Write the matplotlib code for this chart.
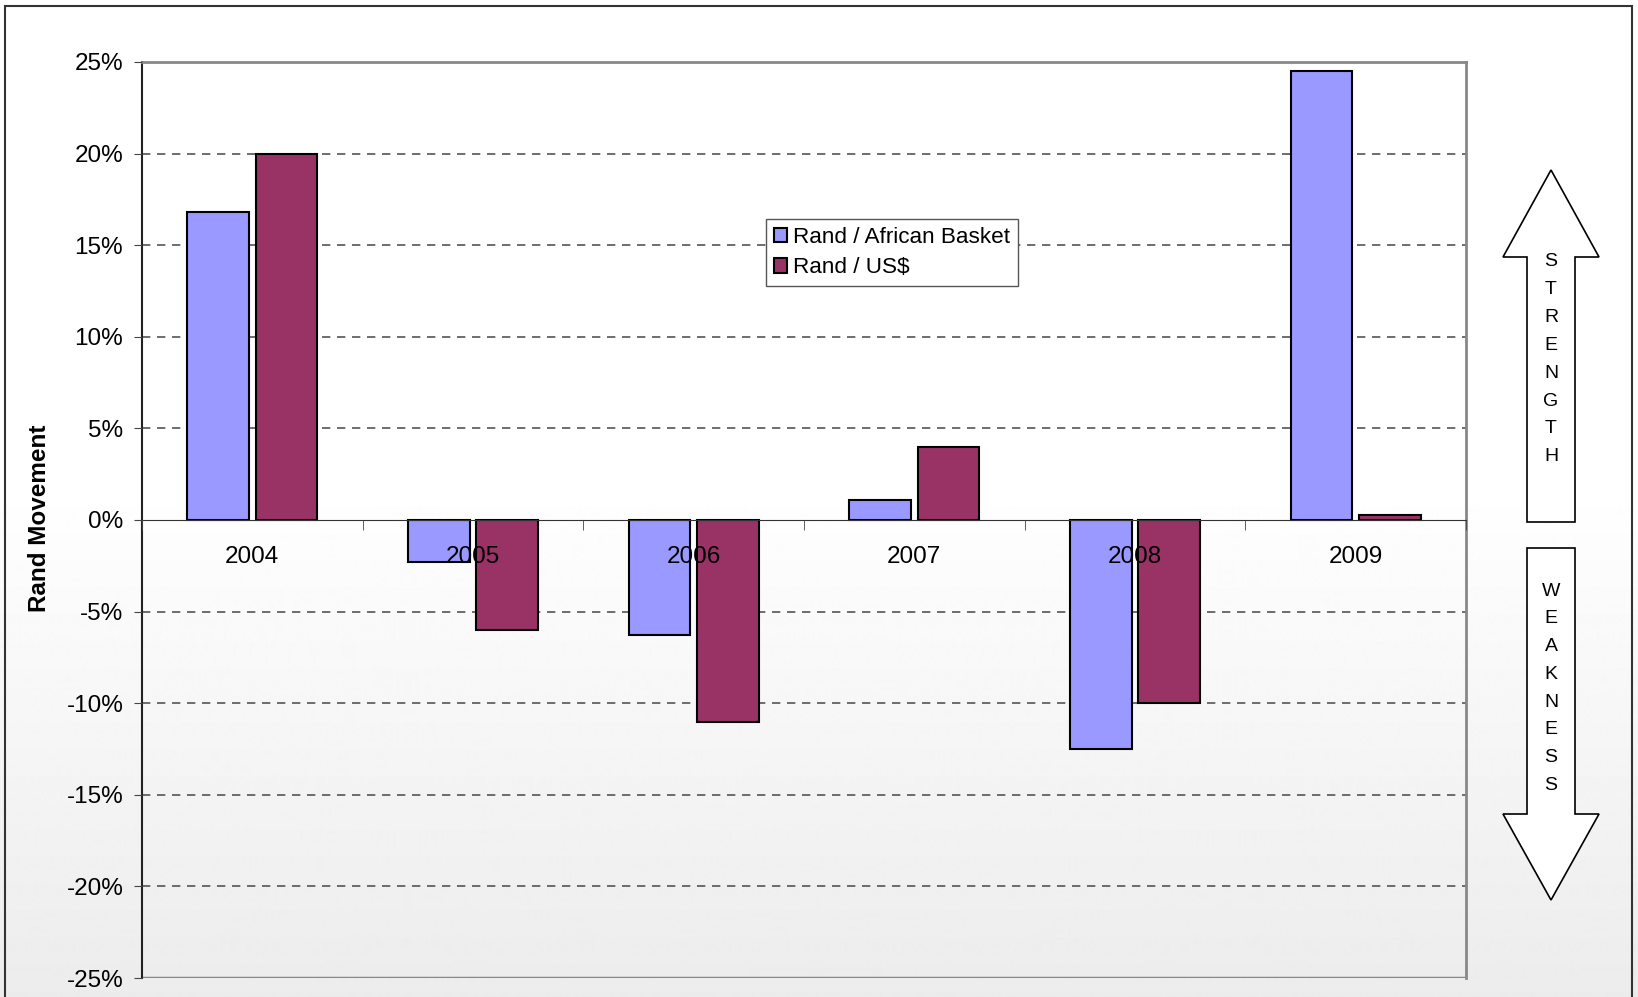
import numpy as np
import matplotlib
matplotlib.use("Agg")
import matplotlib.pyplot as plt
from matplotlib.patches import Polygon, Rectangle

years = ["2004", "2005", "2006", "2007", "2008", "2009"]
african_basket = [16.8, -2.3, -6.3, 1.1, -12.5, 24.5]
us_dollar = [20.0, -6.0, -11.0, 4.0, -10.0, 0.3]
y_ticks = [-25, -20, -15, -10, -5, 0, 5, 10, 15, 20, 25]

W, H = 1638, 997
plt.rcParams['font.family'] = ['Liberation Sans', 'DejaVu Sans']

fig = plt.figure(figsize=(W / 100, H / 100), dpi=100)


def fx(px):
    return px / W


def fy(py):
    return 1 - py / H


# background gradient (white on top, light grey at the bottom)
bg = fig.add_axes([0, 0, 1, 1], zorder=-10)
rows = np.arange(H)
shade = np.where(rows < 480, 1.0, 1.0 - (rows - 480) / (H - 480) * 0.075)
bg.imshow(np.repeat(shade[:, None], 2, axis=1), cmap='gray', vmin=0, vmax=1,
          aspect='auto', extent=[0, 1, 0, 1])
bg.axis('off')

# outer frame
fig.patches.append(Rectangle((fx(5), fy(1010)), fx(1632) - fx(5), fy(6) - fy(1010),
                             transform=fig.transFigure, fill=False,
                             edgecolor='#333333', linewidth=1.5))

ax = fig.add_axes([fx(142), fy(978), fx(1466) - fx(142), fy(62) - fy(978)])
ax.set_facecolor('none')
ax.set_axisbelow(False)

x = np.arange(len(years))
w = 0.28
ax.bar(x - 0.155, african_basket, w, color='#9999FF', edgecolor='black',
       linewidth=1.5, label='Rand / African Basket', zorder=2)
ax.bar(x + 0.155, us_dollar, w, color='#993366', edgecolor='black',
       linewidth=1.5, label='Rand / US$', zorder=2)

ax.spines['bottom'].set_position(('data', 0))

ax.set_xlim(-0.5, len(years) - 0.5)
ax.set_ylim(-25, 25)
ax.set_yticks(y_ticks)
ax.set_yticklabels([f"{v}%" for v in y_ticks])
for v in y_ticks:
    if v not in (-25, 0, 25):
        ax.axhline(v, color='#555555', linestyle=(0, (5, 4)), linewidth=1.2, zorder=1)
ax.axhline(-25, color='#888888', linewidth=2.5, zorder=1.5)

ax.set_xticks(x)
ax.set_xticklabels(years)
ax.set_xticks(np.arange(len(years) + 1) - 0.5, minor=True)
ax.tick_params(axis='x', which='major', length=0, pad=19, labelsize=17.5)
ax.tick_params(axis='x', which='minor', length=7, direction='out', color='#444444')
ax.tick_params(axis='y', length=6, pad=7.5, color='#444444', labelsize=17.5)

ax.spines['bottom'].set_color('#333333')
ax.spines['left'].set_color('#222222')
ax.spines['left'].set_linewidth(1.5)
for s in ('top', 'right'):
    ax.spines[s].set_color('#888888')
    ax.spines[s].set_linewidth(2)

fig.text(fx(40), fy(518), 'Rand Movement', rotation=90, ha='center', va='center',
         fontsize=17.5, fontweight='bold')

leg = ax.legend(loc='upper left', bbox_to_anchor=(fx(766), fy(219)),
                bbox_transform=fig.transFigure, fontsize=16.2, frameon=True,
                fancybox=False, framealpha=1, edgecolor='#555555',
                borderpad=0.35, borderaxespad=0, labelspacing=0.42,
                handlelength=0.6, handleheight=0.6, handletextpad=0.25)
leg.get_frame().set_linewidth(1.0)
leg.set_zorder(5)

# strength / weakness arrows
up = [(1551, 170), (1599, 257), (1575, 257), (1575, 522), (1527, 522),
      (1527, 257), (1503, 257)]
down = [(1551, 900), (1599, 814), (1575, 814), (1575, 548), (1527, 548),
        (1527, 814), (1503, 814)]
for pts in (up, down):
    fig.patches.append(Polygon([(fx(a), fy(b)) for a, b in pts], closed=True,
                               transform=fig.transFigure, facecolor='white',
                               edgecolor='black', linewidth=1.2))

for word, y0 in (("STRENGTH", 262), ("WEAKNESS", 591)):
    for i, ch in enumerate(word):
        fig.text(fx(1551), fy(y0 + i * 27.8), ch, ha='center', va='center', fontsize=14)

fig.savefig('out.png', dpi=100)
